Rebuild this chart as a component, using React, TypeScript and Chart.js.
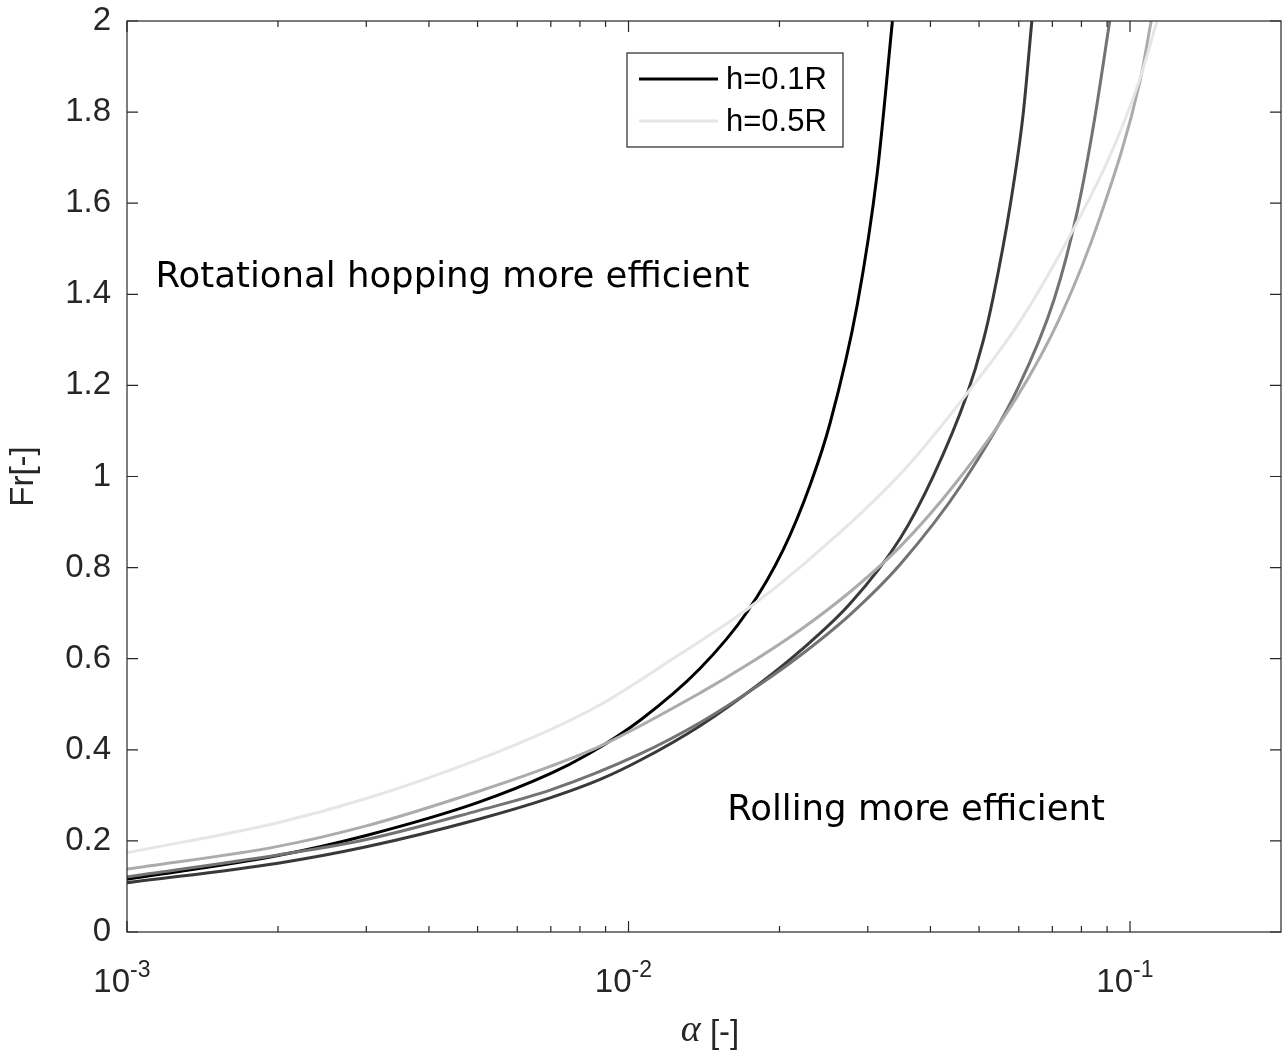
import React, { useEffect, useRef } from 'react';
import { Chart, registerables } from 'chart.js';

Chart.register(...registerables);

// ---------- data ----------
const seriesLabels = ['h=0.1R', 'h=0.2R', 'h=0.3R', 'h=0.4R', 'h=0.5R'];
const seriesColors = ['#000000', '#393939', '#737373', '#acacac', '#e6e6e6'];
const legendSeries = [0, 4];

const alphaH01 = [0.001, 0.002, 0.003, 0.005, 0.007, 0.00827, 0.01055, 0.0139, 0.01722, 0.02034, 0.02303, 0.02524, 0.02857, 0.03132, 0.03359];
const frH01 = [0.116, 0.168, 0.212, 0.284, 0.348, 0.389, 0.465, 0.579, 0.702, 0.839, 0.982, 1.118, 1.376, 1.665, 2.0];

const alphaH02 = [0.001, 0.002, 0.003, 0.005, 0.007, 0.00878, 0.01055, 0.0139, 0.0183, 0.02199, 0.02767, 0.0348, 0.04052, 0.04727, 0.05095, 0.05334, 0.05768, 0.06121, 0.06371];
const frH02 = [0.108, 0.151, 0.187, 0.247, 0.295, 0.335, 0.377, 0.453, 0.546, 0.617, 0.721, 0.864, 1.001, 1.179, 1.297, 1.393, 1.595, 1.795, 2.0];

const alphaH03 = [0.001, 0.002, 0.003, 0.005, 0.007, 0.01055, 0.0139, 0.0183, 0.02199, 0.02767, 0.0348, 0.04627, 0.05982, 0.07059, 0.07845, 0.08481, 0.0911];
const frH03 = [0.121, 0.169, 0.203, 0.266, 0.312, 0.391, 0.460, 0.544, 0.607, 0.697, 0.807, 0.984, 1.195, 1.389, 1.581, 1.779, 2.0];

const alphaH04 = [0.001, 0.002, 0.003, 0.005, 0.007, 0.00878, 0.0139, 0.01722, 0.02199, 0.02767, 0.0348, 0.0448, 0.05946, 0.07256, 0.08718, 0.1047, 0.1102];
const frH04 = [0.138, 0.188, 0.233, 0.308, 0.364, 0.408, 0.525, 0.586, 0.663, 0.747, 0.846, 0.984, 1.174, 1.350, 1.570, 1.868, 2.0];

const alphaH05 = [0.001, 0.002, 0.003, 0.005, 0.007, 0.00878, 0.01211, 0.01722, 0.02199, 0.0348, 0.04646, 0.06037, 0.07666, 0.09129, 0.1047, 0.1132];
const frH05 = [0.174, 0.240, 0.293, 0.378, 0.445, 0.499, 0.596, 0.708, 0.801, 1.005, 1.171, 1.341, 1.538, 1.705, 1.874, 2.0];

const seriesAlpha = [alphaH01, alphaH02, alphaH03, alphaH04, alphaH05];
const seriesFr = [frH01, frH02, frH03, frH04, frH05];

const xMin = 0.001;
const xMax = 0.2;
const yMin = 0;
const yMax = 2;
const yTickValues = [0, 0.2, 0.4, 0.6, 0.8, 1, 1.2, 1.4, 1.6, 1.8, 2];
const xMajorTicks = [0.001, 0.01, 0.1];
const xMajorExponents = ['-3', '-2', '-1'];
const xMinorMultipliers = [2, 3, 4, 5, 6, 7, 8, 9];

const xAxisTitleSymbol = 'α';
const xAxisTitleUnit = ' [-]';
const yAxisTitle = 'Fr[-]';

const annotationTexts = ['Rotational hopping more efficient', 'Rolling more efficient'];
const annotationAlpha = [0.00114, 0.01573];
const annotationFr = [1.416, 0.246];

// ---------- styles ----------
const AXIS_COLOR = '#262626';
const SANS = '"Liberation Sans", Arial, sans-serif';
const ANNOT_FONT = '"DejaVu Sans", Verdana, sans-serif';

const customDraw = {
  id: 'customDraw',
  afterDraw(chart: any) {
    const { ctx, chartArea: ca, scales } = chart;
    const xs = scales.x;
    const ys = scales.y;
    ctx.save();
    // frame
    ctx.strokeStyle = AXIS_COLOR;
    ctx.lineWidth = 1.2;
    ctx.strokeRect(ca.left, ca.top, ca.right - ca.left, ca.bottom - ca.top);

    // x ticks
    const drawXTick = (v: number, len: number) => {
      const px = xs.getPixelForValue(v);
      if (px < ca.left - 0.5 || px > ca.right + 0.5) return;
      ctx.beginPath();
      ctx.moveTo(px, ca.bottom);
      ctx.lineTo(px, ca.bottom - len);
      ctx.moveTo(px, ca.top);
      ctx.lineTo(px, ca.top + len);
      ctx.stroke();
    };
    xMajorTicks.forEach((v) => {
      drawXTick(v, 11);
      xMinorMultipliers.forEach((m) => {
        const mv = v * m;
        if (mv < xMax) drawXTick(mv, 6);
      });
    });
    // y ticks
    yTickValues.forEach((v) => {
      const py = ys.getPixelForValue(v);
      ctx.beginPath();
      ctx.moveTo(ca.left, py);
      ctx.lineTo(ca.left + 11, py);
      ctx.moveTo(ca.right, py);
      ctx.lineTo(ca.right - 11, py);
      ctx.stroke();
    });

    // x tick labels 10^n
    ctx.fillStyle = AXIS_COLOR;
    ctx.textBaseline = 'alphabetic';
    xMajorTicks.forEach((v, i) => {
      const px = xs.getPixelForValue(v);
      ctx.font = `33px ${SANS}`;
      ctx.textAlign = 'right';
      ctx.fillText('10', px + 3, ca.bottom + 60);
      ctx.font = `23px ${SANS}`;
      ctx.textAlign = 'left';
      ctx.fillText(xMajorExponents[i], px + 3, ca.bottom + 45);
    });

    // x axis title
    const serifItalic = `italic 38px "Liberation Serif", "DejaVu Serif", serif`;
    ctx.font = serifItalic;
    const wA = ctx.measureText(xAxisTitleSymbol).width;
    ctx.font = `33px ${SANS}`;
    const wB = ctx.measureText(xAxisTitleUnit).width;
    const cx = (ca.left + ca.right) / 2 + 6;
    const startX = cx - (wA + wB) / 2;
    ctx.textAlign = 'left';
    ctx.font = serifItalic;
    ctx.fillText(xAxisTitleSymbol, startX, ca.bottom + 109);
    ctx.font = `33px ${SANS}`;
    ctx.fillText(xAxisTitleUnit, startX + wA, ca.bottom + 111);

    // annotations
    ctx.fillStyle = '#000000';
    ctx.font = `35.5px ${ANNOT_FONT}`;
    annotationTexts.forEach((t, i) => {
      ctx.fillText(t, xs.getPixelForValue(annotationAlpha[i]), ys.getPixelForValue(annotationFr[i]));
    });

    // legend
    const bx = ca.left + 500;
    const by = ca.top + 32;
    const bw = 216;
    const bh = 94;
    ctx.fillStyle = '#ffffff';
    ctx.fillRect(bx, by, bw, bh);
    ctx.strokeStyle = AXIS_COLOR;
    ctx.lineWidth = 1.2;
    ctx.strokeRect(bx, by, bw, bh);
    legendSeries.forEach((si, r) => {
      const ry = by + 26 + r * 42;
      ctx.strokeStyle = seriesColors[si];
      ctx.lineWidth = 3;
      ctx.beginPath();
      ctx.moveTo(bx + 12, ry);
      ctx.lineTo(bx + 91, ry);
      ctx.stroke();
      ctx.fillStyle = '#000000';
      ctx.font = `31px ${SANS}`;
      ctx.textAlign = 'left';
      ctx.textBaseline = 'middle';
      ctx.fillText(seriesLabels[si], bx + 99, ry + 1);
    });
    ctx.restore();
  },
};

export default function App() {
  const canvasRef = useRef<HTMLCanvasElement | null>(null);

  useEffect(() => {
    const canvas = canvasRef.current;
    if (!canvas) return;
    const datasets = seriesLabels.map((label, si) => ({
      label,
      data: seriesAlpha[si].map((a, i) => ({ x: a, y: seriesFr[si][i] })),
      borderColor: seriesColors[si],
      backgroundColor: seriesColors[si],
      borderWidth: 3,
      pointRadius: 0,
      fill: false,
      cubicInterpolationMode: 'monotone' as const,
      order: seriesLabels.length - si,
    }));

    const zeroPad = (s: any) => {
      s.paddingTop = 0;
      s.paddingBottom = 0;
      s.paddingLeft = 0;
      s.paddingRight = 0;
    };

    const chart = new Chart(canvas, {
      type: 'line',
      data: { datasets },
      options: {
        animation: false,
        responsive: false,
        devicePixelRatio: 1,
        layout: { padding: { top: 21, right: 6, left: 0, bottom: 0 } },
        plugins: {
          legend: { display: false },
          tooltip: { enabled: false },
        },
        scales: {
          x: {
            type: 'logarithmic',
            min: xMin,
            max: xMax,
            grid: { display: false, drawTicks: false },
            border: { display: false },
            ticks: { display: false },
            afterFit: (s: any) => {
              s.height = 119;
              zeroPad(s);
            },
          },
          y: {
            type: 'linear',
            min: yMin,
            max: yMax,
            grid: { display: false, drawTicks: false },
            border: { display: false },
            afterBuildTicks: (s: any) => {
              s.ticks = yTickValues.map((v) => ({ value: v }));
            },
            ticks: {
              padding: 16,
              color: AXIS_COLOR,
              font: { family: SANS, size: 33 },
              callback: (v: any) => String(Math.round(Number(v) * 10) / 10),
            },
            title: {
              display: true,
              text: yAxisTitle,
              color: AXIS_COLOR,
              font: { family: SANS, size: 33 },
              padding: { top: 4, bottom: 0 },
            },
            afterFit: (s: any) => {
              s.width = 127;
              zeroPad(s);
            },
          },
        },
      },
      plugins: [customDraw],
    });
    return () => chart.destroy();
  }, []);

  return (
    <div style={{ position: 'fixed', left: 0, top: 0, width: 1287, height: 1051, background: '#ffffff' }}>
      <canvas ref={canvasRef} width={1287} height={1051} style={{ display: 'block' }} />
    </div>
  );
}
